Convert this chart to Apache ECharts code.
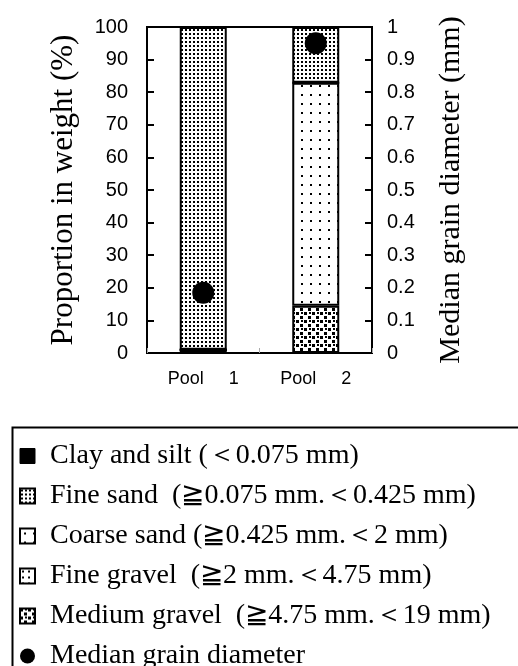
<!DOCTYPE html>
<html>
<head>
<meta charset="utf-8">
<script src="https://cdn.jsdelivr.net/npm/echarts@6/dist/echarts.min.js"></script>
<style>html,body{margin:0;padding:0;background:#fff;}#c{width:518px;height:666px;}</style>
</head>
<body>
<div id="c"></div>
<script>
const categories = ['Pool     1', 'Pool     2'];
const clayAndSilt = [1, 0];
const mediumGravel = [0, 14.5];
const coarseSand = [0, 68.4];
const fineSand = [99, 17.1];
const fineGravel = [0, 0];
const medianDiameter = [0.185, 0.95];
const leftTicks = { min: 0, max: 100, interval: 10 };
const rightTicks = { min: 0, max: 1, interval: 0.1 };

const names = {
  clay: 'Clay and silt (\uFF1C0.075 mm)',
  fineSand: 'Fine sand  (\u22670.075 mm.\uFF1C0.425 mm)',
  coarseSand: 'Coarse sand (\u22670.425 mm.\uFF1C2 mm)',
  fineGravel: 'Fine gravel  (\u22672 mm.\uFF1C4.75 mm)',
  mediumGravel: 'Medium gravel  (\u22674.75 mm.\uFF1C19 mm)',
  median: 'Median grain diameter'
};

function makePattern(size, draw) {
  const c = document.createElement('canvas');
  c.width = size; c.height = size;
  const ctx = c.getContext('2d');
  ctx.fillStyle = '#fff';
  ctx.fillRect(0, 0, size, size);
  ctx.fillStyle = '#000';
  draw(ctx);
  return { image: c, repeat: 'repeat' };
}
const patFineSand = makePattern(4, ctx => { ctx.fillRect(1, 1, 2, 2); });
const patCoarseSand = makePattern(9, ctx => { ctx.fillRect(4, 4, 2, 2); });
const patMediumGravel = makePattern(8, ctx => { ctx.fillRect(0, 0, 3, 3); ctx.fillRect(4, 4, 3, 3); ctx.fillRect(5, 0, 2, 2); });
const patFineGravel = makePattern(6, ctx => { ctx.fillRect(2, 2, 2, 2); });

const chart = echarts.init(document.getElementById('c'));
const serif = "'Liberation Serif', 'Times New Roman', serif";
const sans = "'Liberation Sans', Arial, sans-serif";

function barSeries(name, data, color) {
  return {
    name, type: 'bar', stack: 'total', data, barWidth: 47,
    itemStyle: { color, borderColor: '#000', borderWidth: 2 },
    emphasis: { disabled: true }
  };
}

chart.setOption({
  animation: false,
  backgroundColor: '#fff',
  grid: { left: 147, right: 146, top: 27, bottom: 313, show: true, borderColor: '#000', borderWidth: 2, backgroundColor: 'transparent' },
  xAxis: {
    type: 'category', data: categories,
    axisLine: { lineStyle: { color: '#000', width: 2 } },
    axisTick: { show: true, inside: true, length: 5, lineStyle: { color: '#aaa', width: 1 } },
    axisLabel: { color: '#000', fontFamily: sans, fontSize: 18, margin: 17 }
  },
  yAxis: [
    {
      type: 'value', min: leftTicks.min, max: leftTicks.max, interval: leftTicks.interval,
      name: 'Proportion in weight (%)', nameLocation: 'middle', nameGap: 68, nameRotate: 90,
      nameTextStyle: { color: '#000', fontFamily: serif, fontSize: 31 },
      axisLine: { show: true, lineStyle: { color: '#000', width: 2 } },
      axisTick: { show: true, inside: true, length: 7, lineStyle: { color: '#000', width: 2 } },
      axisLabel: { color: '#000', fontFamily: sans, fontSize: 20, margin: 19 },
      splitLine: { show: false }
    },
    {
      type: 'value', min: rightTicks.min, max: rightTicks.max, interval: rightTicks.interval,
      name: 'Median grain diameter (mm)', nameLocation: 'middle', nameGap: 64, nameRotate: 90,
      nameTextStyle: { color: '#000', fontFamily: serif, fontSize: 30 },
      axisLine: { show: true, lineStyle: { color: '#000', width: 2 } },
      axisTick: { show: true, inside: true, length: 7, lineStyle: { color: '#000', width: 2 } },
      axisLabel: { color: '#000', fontFamily: sans, fontSize: 20, margin: 15 },
      splitLine: { show: false }
    }
  ],
  legend: {
    orient: 'vertical', left: 14, top: 437, height: 300,
    itemWidth: 15, itemHeight: 15, itemGap: 12, itemTextGap: 5,
    selectedMode: false,
    textStyle: { color: '#000', fontFamily: serif, fontSize: 28, lineHeight: 28, padding: [0, 0, 0, 10] },
    data: [
      { name: names.clay, icon: 'rect', itemStyle: { color: '#000', borderColor: '#000', borderWidth: 1 } },
      { name: names.fineSand, icon: 'rect', itemStyle: { color: patFineSand, borderColor: '#000', borderWidth: 2 } },
      { name: names.coarseSand, icon: 'rect', itemStyle: { color: patCoarseSand, borderColor: '#000', borderWidth: 2 } },
      { name: names.fineGravel, icon: 'rect', itemStyle: { color: patFineGravel, borderColor: '#000', borderWidth: 2 } },
      { name: names.mediumGravel, icon: 'rect', itemStyle: { color: patMediumGravel, borderColor: '#000', borderWidth: 2 } },
      { name: names.median, icon: 'circle', itemStyle: { color: '#000', borderWidth: 0, opacity: 1 } }
    ]
  },
  graphic: [
    { type: 'rect', left: 10, top: 425, shape: { width: 560, height: 300 }, style: { fill: 'none', stroke: '#000', lineWidth: 2 }, silent: true }
  ],
  series: [
    barSeries(names.clay, clayAndSilt, '#000'),
    barSeries(names.mediumGravel, mediumGravel, patMediumGravel),
    barSeries(names.coarseSand, coarseSand, patCoarseSand),
    barSeries(names.fineGravel, fineGravel, patFineGravel),
    barSeries(names.fineSand, fineSand, patFineSand),
    {
      name: names.median, type: 'scatter', yAxisIndex: 1, data: medianDiameter,
      symbol: 'circle', symbolSize: 22, itemStyle: { color: '#000', opacity: 1 }, z: 5,
      emphasis: { disabled: true }
    }
  ]
});
</script>
</body>
</html>
